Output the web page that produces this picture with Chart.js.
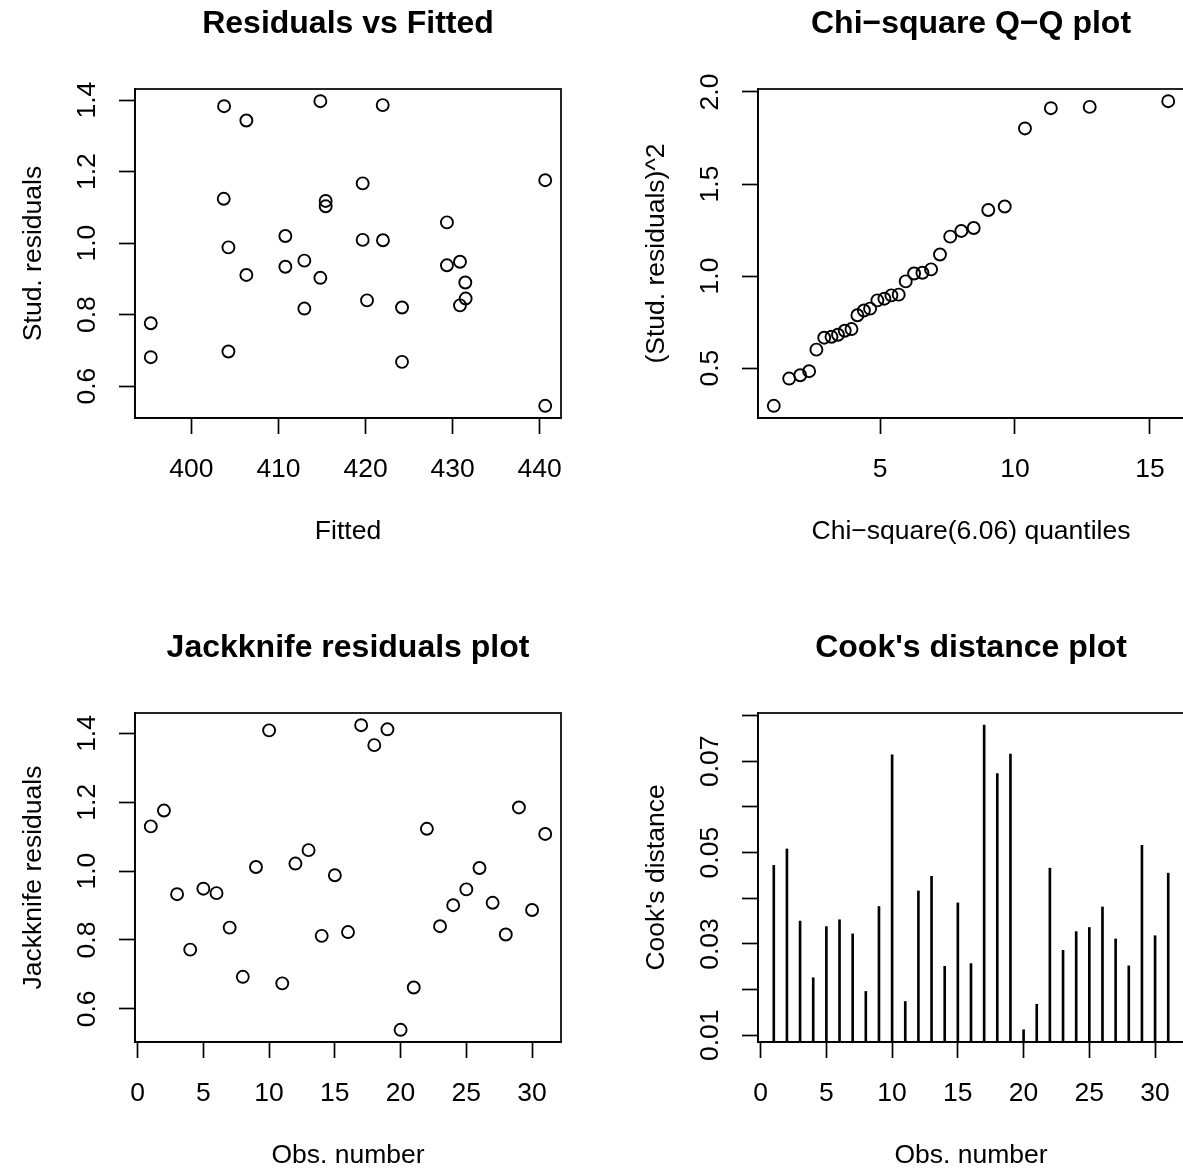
<!DOCTYPE html>
<html>
<head>
<meta charset="utf-8">
<script src="https://cdn.jsdelivr.net/npm/chart.js@4/dist/chart.umd.min.js"></script>
<style>
html,body{margin:0;padding:0;background:#fff;overflow:hidden;width:1183px;height:1173px;position:relative;}
.p{position:absolute;width:623px;height:624px;}
canvas{display:block;}
</style>
</head>
<body>
<div class="p" style="left:0;top:0"><canvas id="c1" width="623" height="624"></canvas></div>
<div class="p" style="left:623px;top:0"><canvas id="c2" width="623" height="624"></canvas></div>
<div class="p" style="left:0;top:624px"><canvas id="c3" width="623" height="624"></canvas></div>
<div class="p" style="left:623px;top:624px"><canvas id="c4" width="623" height="624"></canvas></div>
<script>
// ---------------- data ----------------
const fittedValues = [403.75, 414.81, 421.97, 406.31, 440.64, 419.67, 403.71, 415.42, 415.42, 429.35,
  410.79, 419.67, 422.00, 404.25, 412.97, 430.85, 429.35, 410.79, 406.31, 414.81,
  431.46, 420.17, 431.50, 430.85, 424.19, 412.97, 395.33, 395.33, 404.25, 424.19, 440.64];
const studResiduals = [1.383, 1.397, 1.386, 1.343, 1.176, 1.167, 1.124, 1.118, 1.103, 1.058,
  1.020, 1.009, 1.008, 0.988, 0.951, 0.948, 0.938, 0.934, 0.911, 0.903,
  0.890, 0.840, 0.845, 0.826, 0.820, 0.817, 0.776, 0.681, 0.697, 0.668, 0.545];

const chisqQuantiles = [1.06, 1.63, 2.04, 2.37, 2.64, 2.93, 3.20, 3.44, 3.69, 3.94,
  4.16, 4.40, 4.63, 4.90, 5.16, 5.42, 5.69, 5.95, 6.26, 6.57,
  6.89, 7.22, 7.60, 8.01, 8.47, 9.01, 9.62, 10.37, 11.33, 12.77, 15.68];
const studResidSquared = [0.295, 0.443, 0.461, 0.483, 0.600, 0.665, 0.670, 0.681, 0.703, 0.712,
  0.787, 0.813, 0.823, 0.868, 0.877, 0.895, 0.899, 0.971, 1.014, 1.018,
  1.036, 1.117, 1.214, 1.245, 1.261, 1.359, 1.378, 1.802, 1.912, 1.919, 1.950];

const obsNumber = [1, 2, 3, 4, 5, 6, 7, 8, 9, 10, 11, 12, 13, 14, 15, 16,
  17, 18, 19, 20, 21, 22, 23, 24, 25, 26, 27, 28, 29, 30, 31];
const jackknifeResiduals = [1.130, 1.176, 0.933, 0.772, 0.949, 0.936, 0.836, 0.693, 1.012, 1.409,
  0.674, 1.022, 1.061, 0.812, 0.988, 0.823, 1.424, 1.366, 1.412, 0.539,
  0.662, 1.123, 0.840, 0.901, 0.947, 1.009, 0.908, 0.816, 1.185, 0.887, 1.108];
const cooksDistance = [0.0472, 0.0508, 0.0350, 0.0226, 0.0338, 0.0353, 0.0322, 0.0196, 0.0382, 0.0714,
  0.0174, 0.0416, 0.0448, 0.0251, 0.0390, 0.0257, 0.0779, 0.0673, 0.0716, 0.0112,
  0.0168, 0.0466, 0.0286, 0.0327, 0.0336, 0.0381, 0.0311, 0.0252, 0.0516, 0.0318, 0.0455];

// tick values and labels
const fittedTicks = [400, 410, 420, 430, 440];
const fittedTickLabels = ['400', '410', '420', '430', '440'];
const studTicks = [0.6, 0.8, 1.0, 1.2, 1.4];
const studTickLabels = ['0.6', '0.8', '1.0', '1.2', '1.4'];
const chisqTicks = [5, 10, 15];
const chisqTickLabels = ['5', '10', '15'];
const sqTicks = [0.5, 1.0, 1.5, 2.0];
const sqTickLabels = ['0.5', '1.0', '1.5', '2.0'];
const obsTicks = [0, 5, 10, 15, 20, 25, 30];
const obsTickLabels = ['0', '5', '10', '15', '20', '25', '30'];
const cookTicks = [0.01, 0.02, 0.03, 0.04, 0.05, 0.06, 0.07, 0.08];
const cookTickLabels = ['0.01', '', '0.03', '', '0.05', '', '0.07', ''];

// ---------------- layout ----------------
const FONT = '"Liberation Sans", Arial, Helvetica, sans-serif';
Chart.defaults.font.family = FONT;
Chart.defaults.color = '#000';
const W = 623, H = 624;
const BOX = {left: 135, right: 561, top: 89, bottom: 418};
const TICK = 26.5, LAB = 26.5, MAIN = 32;
const TL = 16, LW = 1.7;
const Y_TICK_CENTER = 87.5;
const X_TICK_MID = 470;
const X_TITLE_MID = 531.7;
const Y_TITLE_MID = 33.5;
const MAIN_MID = 23.8;

function rRange(arr) {
  const lo = Math.min(...arr), hi = Math.max(...arr), d = (hi - lo) * 0.04;
  return [lo - d, hi + d];
}
function widest(labels) {
  const c = document.createElement('canvas').getContext('2d');
  c.font = TICK + 'px ' + FONT;
  return Math.max(...labels.map(l => c.measureText(l).width));
}

const framePlugin = {
  id: 'frame',
  afterDatasetsDraw(chart) {
    const a = chart.chartArea, ctx = chart.ctx;
    ctx.save();
    ctx.strokeStyle = '#000';
    ctx.lineWidth = LW;
    ctx.strokeRect(a.left, a.top, a.right - a.left, a.bottom - a.top);
    ctx.restore();
  }
};

function buildOptions(p) {
  const [xMin, xMax] = rRange(p.xData);
  const [yMin, yMax] = rRange(p.yData);
  const tickLH = TICK * 1.2, labLH = LAB * 1.2, mainLH = MAIN * 1.2;
  const yPad = BOX.left - TL - Y_TICK_CENTER - widest(p.yLabels) / 2;
  const mainTop = MAIN_MID - mainLH / 2;
  return {
    responsive: false, animation: false, devicePixelRatio: 1, events: [],
    layout: {autoPadding: false, padding: {left: 0, top: 0, bottom: 0, right: W - BOX.right}},
    plugins: {
      legend: {display: false}, tooltip: {enabled: false},
      title: {display: true, text: p.title, fullSize: false, color: '#000',
        font: {size: MAIN, weight: 'bold', family: FONT, lineHeight: 1.2},
        padding: {top: mainTop, bottom: BOX.top - mainTop - mainLH}}
    },
    scales: {
      x: {
        type: 'linear', position: 'bottom', min: xMin, max: xMax, offset: false,
        afterBuildTicks: s => { s.ticks = p.xTicks.map(v => ({value: v})); },
        afterFit: s => { s.height = H - BOX.bottom; },
        ticks: {autoSkip: false, minRotation: 0, maxRotation: 0, color: '#000',
          padding: X_TICK_MID - BOX.bottom - TL - tickLH / 2,
          font: {size: TICK, family: FONT, lineHeight: 1.2},
          callback: (v, i) => p.xLabels[i]},
        grid: {display: true, drawOnChartArea: false, drawTicks: true, tickLength: TL,
          tickWidth: LW, tickColor: '#000', color: '#000', offset: false},
        border: {display: true, color: '#000', width: LW},
        title: {display: true, text: p.xTitle, color: '#000',
          font: {size: LAB, family: FONT, lineHeight: 1.2},
          padding: {top: 0, bottom: (H - X_TITLE_MID) - labLH / 2}}
      },
      y: {
        type: 'linear', position: 'left', min: yMin, max: yMax, beginAtZero: false,
        afterBuildTicks: s => { s.ticks = p.yTicks.map(v => ({value: v})); },
        afterFit: s => { s.width = BOX.left; },
        ticks: {autoSkip: false, minRotation: 90, maxRotation: 90, crossAlign: 'center',
          color: '#000', padding: yPad,
          font: {size: TICK, family: FONT, lineHeight: 1.2},
          callback: (v, i) => p.yLabels[i]},
        grid: {display: true, drawOnChartArea: false, drawTicks: true, tickLength: TL,
          tickWidth: LW, tickColor: '#000', color: '#000', offset: false},
        border: {display: true, color: '#000', width: LW},
        title: {display: true, text: p.yTitle, color: '#000',
          font: {size: LAB, family: FONT, lineHeight: 1.2},
          padding: {top: Y_TITLE_MID - labLH / 2, bottom: 0}}
      }
    }
  };
}

function pts(xs, ys) { return xs.map((x, i) => ({x: x, y: ys[i]})); }
const circleStyle = {pointStyle: 'circle', pointRadius: 6, pointBorderWidth: 1.9,
  borderWidth: 1.9, pointBorderColor: '#000', borderColor: '#000',
  pointBackgroundColor: 'rgba(0,0,0,0)', backgroundColor: 'rgba(0,0,0,0)', showLine: false};

new Chart(document.getElementById('c1'), {
  type: 'scatter',
  data: {datasets: [Object.assign({data: pts(fittedValues, studResiduals)}, circleStyle)]},
  options: buildOptions({title: 'Residuals vs Fitted', xTitle: 'Fitted', yTitle: 'Stud. residuals',
    xData: fittedValues, yData: studResiduals, xTicks: fittedTicks, xLabels: fittedTickLabels,
    yTicks: studTicks, yLabels: studTickLabels}),
  plugins: [framePlugin]
});

new Chart(document.getElementById('c2'), {
  type: 'scatter',
  data: {datasets: [Object.assign({data: pts(chisqQuantiles, studResidSquared)}, circleStyle)]},
  options: buildOptions({title: 'Chi\u2212square Q\u2212Q plot', xTitle: 'Chi\u2212square(6.06) quantiles',
    yTitle: '(Stud. residuals)^2',
    xData: chisqQuantiles, yData: studResidSquared, xTicks: chisqTicks, xLabels: chisqTickLabels,
    yTicks: sqTicks, yLabels: sqTickLabels}),
  plugins: [framePlugin]
});

new Chart(document.getElementById('c3'), {
  type: 'scatter',
  data: {datasets: [Object.assign({data: pts(obsNumber, jackknifeResiduals)}, circleStyle)]},
  options: buildOptions({title: 'Jackknife residuals plot', xTitle: 'Obs. number', yTitle: 'Jackknife residuals',
    xData: obsNumber, yData: jackknifeResiduals, xTicks: obsTicks, xLabels: obsTickLabels,
    yTicks: studTicks, yLabels: studTickLabels}),
  plugins: [framePlugin]
});

new Chart(document.getElementById('c4'), {
  type: 'bar',
  data: {datasets: [{data: pts(obsNumber, cooksDistance), backgroundColor: '#000',
    borderWidth: 0, barThickness: 2}]},
  options: buildOptions({title: "Cook's distance plot", xTitle: 'Obs. number', yTitle: "Cook's distance",
    xData: obsNumber, yData: cooksDistance, xTicks: obsTicks, xLabels: obsTickLabels,
    yTicks: cookTicks, yLabels: cookTickLabels}),
  plugins: [framePlugin]
});
</script>
</body>
</html>
